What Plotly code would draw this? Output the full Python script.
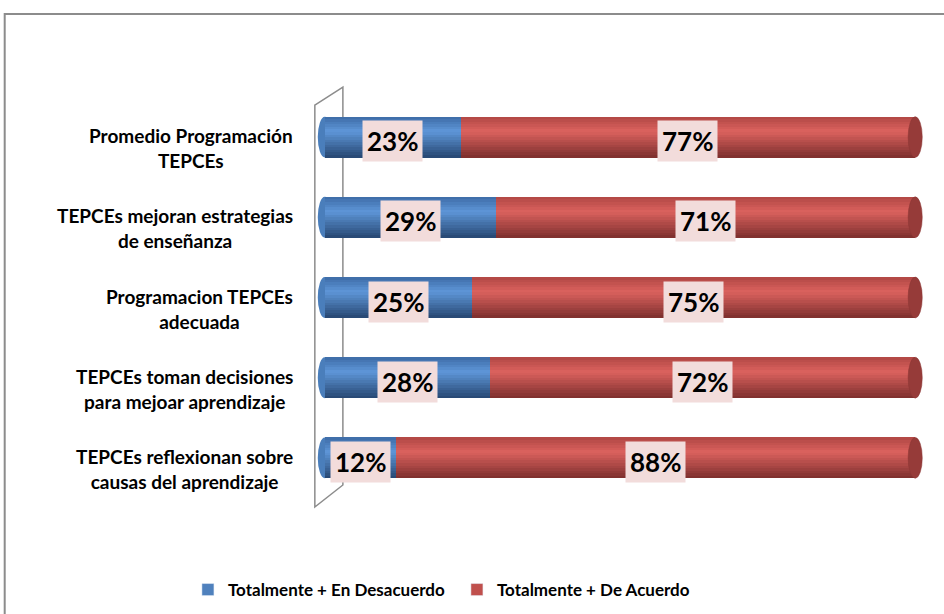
import plotly.graph_objects as go

# ── Dati ─────────────────────────────────────────────────────────────────────
categorie = [
    "Promedio Programación<br>TEPCEs",
    "TEPCEs mejoran estrategias<br>de enseñanza",
    "Programacion TEPCEs<br>adecuada",
    "TEPCEs toman decisiones<br>para mejoar aprendizaje",
    "TEPCEs reflexionan sobre<br>causas del aprendizaje",
]
desacuerdo = [23, 29, 25, 28, 12]
acuerdo = [77, 71, 75, 72, 88]
serie_nomi = ["Totalmente + En Desacuerdo", "Totalmente + De Acuerdo"]

# ── Stile ────────────────────────────────────────────────────────────────────
FONT = "Lato, 'Open Sans', sans-serif"
BLU = "#4F81BD"
ROSSO = "#C0504D"
LABEL_BG = "#F2DCDB"
GRIGIO = "#8C8C8C"
W = 0.51          # spessore barre (unità categoria)
N_STRISCE = 16    # strati per simulare il cilindro

# profilo colore (t dall'alto): bordo, riflesso, fondo
PROFILO_BLU = [(0.0, "#3D6BA6"), (0.36, "#5E96D8"), (1.0, "#264671")]
PROFILO_ROSSO = [(0.0, "#B04744"), (0.36, "#DB625E"), (1.0, "#7C2F2D")]

# geometria (pixel): area grafico
FIG_W, FIG_H = 944, 614
X_RANGE = [-1.5, 102]
PX_UNIT = 5.9                       # pixel per punto percentuale
L = 325 + X_RANGE[0] * PX_UNIT      # bordo sinistro area
R = 325 + X_RANGE[1] * PX_UNIT      # bordo destro area
T, B = 97, 498


def px(x):
    return (x - L) / (R - L)


def py(y):
    return (B - y) / (B - T)


def _hex(c):
    return [int(c[i:i + 2], 16) for i in (1, 3, 5)]


def _colore(profilo, t):
    for (t0, c0), (t1, c1) in zip(profilo, profilo[1:]):
        if t0 <= t <= t1:
            f = (t - t0) / (t1 - t0)
            a, b = _hex(c0), _hex(c1)
            return "rgb({},{},{})".format(*[round(x + (y - x) * f) for x, y in zip(a, b)])
    return profilo[-1][1]


pos = list(range(len(categorie)))
totali = [a + b for a, b in zip(desacuerdo, acuerdo)]

fig = go.Figure()

for valori, basi, profilo in [
    (desacuerdo, [0] * len(pos), PROFILO_BLU),
    (acuerdo, desacuerdo, PROFILO_ROSSO),
]:
    for k in range(N_STRISCE):
        t = k / N_STRISCE
        fig.add_trace(go.Bar(
            x=valori, y=pos, base=basi, orientation="h",
            width=W * (1 - t), offset=-W / 2 + t * W,
            marker=dict(color=_colore(profilo, t + 0.5 / N_STRISCE), line=dict(width=0)),
            showlegend=False, hoverinfo="skip",
        ))

# voci di legenda
for nome, col in zip(serie_nomi, [BLU, ROSSO]):
    fig.add_trace(go.Bar(x=[None], y=[None], name=nome, orientation="h",
                         marker=dict(color=col)))

# tappi dei cilindri
cap = 1.2
for i, tot in zip(pos, totali):
    fig.add_shape(type="circle", xref="x", yref="y", layer="below",
                  x0=-cap, x1=cap, y0=i - W / 2, y1=i + W / 2,
                  fillcolor="#4A7EBB", line=dict(width=0))
    fig.add_shape(type="circle", xref="x", yref="y", layer="above",
                  x0=tot - cap, x1=tot + cap, y0=i - W / 2, y1=i + W / 2,
                  fillcolor="#963B39", line=dict(color="#8A3634", width=0.5))

# etichette valori
for i, d, a in zip(pos, desacuerdo, acuerdo):
    for xv, v in [(d / 2, d), (d + a / 2, a)]:
        fig.add_annotation(
            x=xv, y=i, text=f"<b>{v}%</b>", showarrow=False, yshift=-4,
            font=dict(size=26, color="#000000", family=FONT),
            bgcolor=LABEL_BG, borderpad=4,
        )

# etichette categorie
for i, cat in zip(pos, categorie):
    fig.add_annotation(
        x=px(295), xref="paper", y=i, yref="y", text=f"<b>{cat}</b>",
        showarrow=False, xanchor="right", align="center", yshift=-11,
        font=dict(size=19, color="#000000", family=FONT),
    )

# parete 3D e cornice
wall = [(315, 105), (343, 87), (343, 485), (315, 507)]
fig.add_shape(type="path", xref="paper", yref="paper", layer="below",
              path="M " + " L ".join(f"{px(a):.4f},{py(b):.4f}" for a, b in wall) + " Z",
              line=dict(color=GRIGIO, width=1.5))
fig.add_shape(type="path", xref="paper", yref="paper", layer="below",
              path=f"M {px(5):.4f},{py(620):.4f} L {px(5):.4f},{py(14):.4f} L {px(950):.4f},{py(14):.4f}",
              line=dict(color=GRIGIO, width=2))

fig.update_layout(
    width=FIG_W, height=FIG_H,
    margin=dict(l=L, r=FIG_W - R, t=T, b=FIG_H - B, autoexpand=False),
    paper_bgcolor="white", plot_bgcolor="white",
    barmode="overlay", bargap=0,
    font=dict(family=FONT, color="#000000"),
    xaxis=dict(range=X_RANGE, visible=False, fixedrange=True),
    yaxis=dict(range=[4.5, -0.5], visible=False, fixedrange=True),
    legend=dict(
        orientation="h", x=px(457), xanchor="center", y=py(590), yanchor="middle",
        font=dict(size=17, family=FONT, color="#000000", weight="bold"),
        traceorder="normal", entrywidth=224,
    ),
    showlegend=True,
)

fig.write_html("out.html", config={"displayModeBar": False},
               post_script="document.body.style.margin='0';")
